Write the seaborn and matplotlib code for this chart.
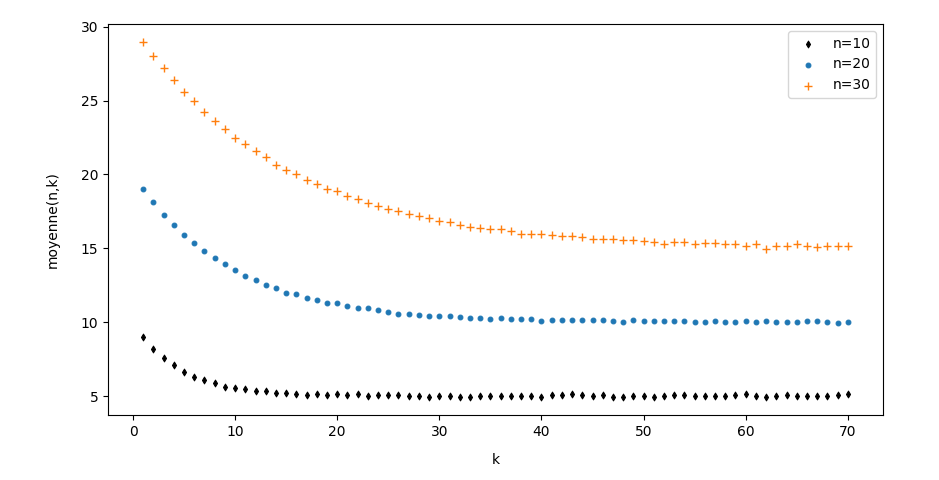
import matplotlib
matplotlib.use("Agg")
import matplotlib.pyplot as plt
import seaborn as sns
import pandas as pd

k = list(range(1, 71))

moy_n10 = [8.98, 8.17, 7.56, 7.11, 6.61, 6.31, 6.07, 5.86, 5.63, 5.53,
           5.46, 5.32, 5.32, 5.19, 5.19, 5.12, 5.05, 5.12, 5.05, 5.12,
           5.05, 5.12, 4.98, 5.05, 5.05, 5.05, 4.98, 4.98, 4.92, 4.98,
           4.98, 4.92, 4.92, 5.02, 5.02, 5.02, 5.02, 5.02, 5.02, 4.92,
           5.09, 5.09, 5.16, 5.09, 5.02, 5.09, 4.92, 4.92, 5.02, 5.02,
           4.92, 5.02, 5.09, 5.09, 5.02, 5.02, 5.02, 5.02, 5.09, 5.16,
           5.02, 4.92, 5.02, 5.09, 5.02, 5.02, 5.02, 5.02, 5.09, 5.16]

moy_n20 = [19.04, 18.14, 17.27, 16.60, 15.90, 15.38, 14.81, 14.34, 13.93, 13.55,
           13.12, 12.85, 12.51, 12.31, 11.97, 11.90, 11.63, 11.49, 11.29, 11.29,
           11.08, 10.97, 10.97, 10.81, 10.72, 10.54, 10.54, 10.47, 10.41, 10.41,
           10.41, 10.34, 10.27, 10.27, 10.20, 10.27, 10.20, 10.20, 10.20, 10.07,
           10.14, 10.14, 10.14, 10.14, 10.14, 10.14, 10.07, 10.00, 10.14, 10.07,
           10.07, 10.07, 10.07, 10.07, 10.00, 10.00, 10.07, 10.00, 10.00, 10.07,
           10.00, 10.07, 10.00, 10.00, 10.00, 10.07, 10.07, 10.00, 9.93, 10.00]

moy_n30 = [28.98, 28.05, 27.22, 26.36, 25.59, 24.98, 24.24, 23.65, 23.08, 22.47,
           22.07, 21.59, 21.19, 20.64, 20.31, 20.05, 19.65, 19.38, 19.02, 18.88,
           18.56, 18.34, 18.07, 17.88, 17.66, 17.55, 17.34, 17.21, 17.05, 16.87,
           16.78, 16.60, 16.44, 16.37, 16.31, 16.31, 16.14, 15.99, 15.97, 15.97,
           15.92, 15.80, 15.80, 15.76, 15.63, 15.63, 15.63, 15.58, 15.58, 15.51,
           15.42, 15.29, 15.42, 15.42, 15.29, 15.36, 15.36, 15.29, 15.29, 15.13,
           15.29, 14.97, 15.19, 15.17, 15.29, 15.13, 15.06, 15.13, 15.13, 15.13]

labels = ["n=10", "n=20", "n=30"]

fig = plt.figure(figsize=(9.39, 4.8), dpi=100)
ax = fig.add_axes([108 / 939, 1 - 415 / 480, (883 - 108) / 939, (415 - 24) / 480])

sns.scatterplot(x=k, y=moy_n10, ax=ax, marker="d", s=12, color="black",
                edgecolor="black", linewidth=0.75, label=labels[0])
sns.scatterplot(x=k, y=moy_n20, ax=ax, marker="o", s=12, color="#1f77b4",
                edgecolor="#1f77b4", linewidth=0.75, label=labels[1])
sns.scatterplot(x=k, y=moy_n30, ax=ax, marker="+", s=36, color="#ff7f0e",
                linewidth=1.0, label=labels[2])

ax.set_xlabel("k", labelpad=10.5)
ax.set_ylabel("moyenne(n,k)", labelpad=15)
ax.legend(loc="upper right")

fig.savefig("out.png", dpi=100)
